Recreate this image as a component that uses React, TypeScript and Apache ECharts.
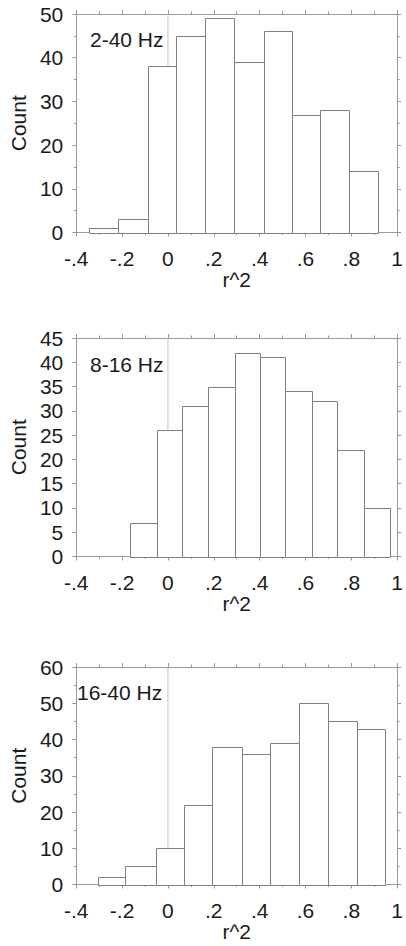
import React, { useEffect, useRef } from "react";
import * as echarts from "echarts";

// Panel titles
const panelTitles = ["2-40 Hz", "8-16 Hz", "16-40 Hz"];

// Bin edges (r^2) and counts per panel
const binEdges1 = [-0.343, -0.220, -0.089, 0.033, 0.163, 0.288, 0.417, 0.541, 0.663, 0.792, 0.916];
const counts1 = [1, 3, 38, 45, 49, 39, 46, 27, 28, 14];

const binEdges2 = [-0.165, -0.048, 0.063, 0.175, 0.292, 0.403, 0.512, 0.628, 0.739, 0.856, 0.968];
const counts2 = [7, 26, 31, 35, 42, 41, 34, 32, 22, 10];

const binEdges3 = [-0.307, -0.186, -0.054, 0.069, 0.194, 0.324, 0.447, 0.571, 0.700, 0.824, 0.949];
const counts3 = [2, 5, 10, 22, 38, 36, 39, 50, 45, 43];

// Axis ranges / ticks
const xMin = -0.4;
const xMax = 1;
const xInterval = 0.2;
const yMaxes = [50, 45, 60];
const yIntervals = [10, 5, 10];
const yMinorSplits = [2, 0, 2];

const xAxisName = "r^2";
const yAxisName = "Count";

const FONT = "'Liberation Sans', Arial, Helvetica, sans-serif";
const TEXT = "#1a1a1a";
const AXIS = "#9a9a9a";

const grids = [
  { left: 72, top: 14, width: 328, height: 218.5 },
  { left: 74, top: 338, width: 329, height: 218.5 },
  { left: 70, top: 667, width: 329, height: 217.5 },
];
const titlePos = [
  { x: 90, y: 29 },
  { x: 90, y: 354 },
  { x: 77, y: 682 },
];

const fmtX = (v: number) => {
  const r = Math.round(v * 10) / 10;
  if (r === 0) return "0";
  if (r === 1) return "1";
  const s = String(Math.abs(r)).replace(/^0/, "");
  return r < 0 ? "-" + s : s;
};

export default function App() {
  const ref = useRef<HTMLDivElement>(null);
  useEffect(() => {
    if (!ref.current) return;
    const chart = echarts.init(ref.current, undefined, { renderer: "svg" });
    const edges = [binEdges1, binEdges2, binEdges3];
    const counts = [counts1, counts2, counts3];

    const xAxes: any[] = [];
    const yAxes: any[] = [];
    const series: any[] = [];

    grids.forEach((_, i) => {
      const tickCommon = {
        axisLine: { show: true, onZero: false, lineStyle: { color: AXIS, width: 1 } },
        splitLine: { show: false },
      };
      const xTicks = {
        axisTick: { show: true, length: 4, lineStyle: { color: AXIS } },
        minorTick: { show: true, splitNumber: 2, length: 2.5, lineStyle: { color: AXIS } },
      };
      const yTicks = {
        axisTick: { show: true, length: 4, lineStyle: { color: AXIS } },
        minorTick: {
          show: yMinorSplits[i] > 0,
          splitNumber: yMinorSplits[i] || 2,
          length: 2.5,
          lineStyle: { color: AXIS },
        },
      };
      // bottom x
      xAxes.push({
        type: "value",
        gridIndex: i,
        position: "bottom",
        min: xMin,
        max: xMax,
        interval: xInterval,
        ...tickCommon,
        ...xTicks,
        axisLabel: {
          formatter: fmtX,
          fontFamily: FONT,
          fontSize: 21,
          color: TEXT,
          margin: 15,
          showMinLabel: true,
          showMaxLabel: true,
        },
        name: xAxisName,
        nameLocation: "middle",
        nameGap: 36,
        nameTextStyle: { fontFamily: FONT, fontSize: 21, color: TEXT },
      });
      // top x
      xAxes.push({
        type: "value",
        gridIndex: i,
        position: "top",
        min: xMin,
        max: xMax,
        interval: xInterval,
        ...tickCommon,
        ...xTicks,
        axisLabel: { show: false },
      });
      // left y
      yAxes.push({
        type: "value",
        gridIndex: i,
        position: "left",
        min: 0,
        max: yMaxes[i],
        interval: yIntervals[i],
        ...tickCommon,
        ...yTicks,
        axisLabel: {
          fontFamily: FONT,
          fontSize: 21,
          color: TEXT,
          margin: 13,
          showMinLabel: true,
          showMaxLabel: true,
        },
        name: yAxisName,
        nameLocation: "middle",
        nameGap: 41,
        nameRotate: 90,
        nameTextStyle: { fontFamily: FONT, fontSize: 21, color: TEXT },
      });
      // right y
      yAxes.push({
        type: "value",
        gridIndex: i,
        position: "right",
        min: 0,
        max: yMaxes[i],
        interval: yIntervals[i],
        ...tickCommon,
        ...yTicks,
        axisLabel: { show: false },
      });

      // zero reference line (behind bars)
      series.push({
        type: "line",
        xAxisIndex: i * 2,
        yAxisIndex: i * 2,
        data: [
          [0, 0],
          [0, yMaxes[i]],
        ],
        symbol: "none",
        lineStyle: { color: "#c4c4c4", width: 1 },
        z: 1,
        silent: true,
      });

      const e = edges[i];
      const c = counts[i];
      const data = c.map((v, k) => [e[k], e[k + 1], v]);
      series.push({
        type: "custom",
        xAxisIndex: i * 2,
        yAxisIndex: i * 2,
        z: 2,
        data,
        encode: { x: [0, 1], y: 2 },
        renderItem: (params: any, api: any) => {
          const p0 = api.coord([api.value(0), 0]);
          const p1 = api.coord([api.value(1), api.value(2)]);
          return {
            type: "rect",
            shape: {
              x: Math.round(p0[0]) + 0.5,
              y: Math.round(p1[1]) + 0.5,
              width: Math.round(p1[0]) - Math.round(p0[0]),
              height: Math.round(p0[1]) - Math.round(p1[1]),
            },
            style: { fill: "#ffffff", stroke: "#7f7f7f", lineWidth: 1 },
          };
        },
      });
    });

    chart.setOption({
      animation: false,
      backgroundColor: "#ffffff",
      grid: grids.map((g) => ({ ...g, containLabel: false })),
      xAxis: xAxes,
      yAxis: yAxes,
      series,
      graphic: titlePos.map((p, i) => ({
        type: "text",
        left: p.x,
        top: p.y,
        z: 10,
        style: {
          text: panelTitles[i],
          fontFamily: FONT,
          fontSize: 21,
          fill: TEXT,
        },
      })),
    });
    return () => chart.dispose();
  }, []);
  return (
    <div
      ref={ref}
      style={{ position: "absolute", left: 0, top: 0, width: 406, height: 946, background: "#fff" }}
    />
  );
}
